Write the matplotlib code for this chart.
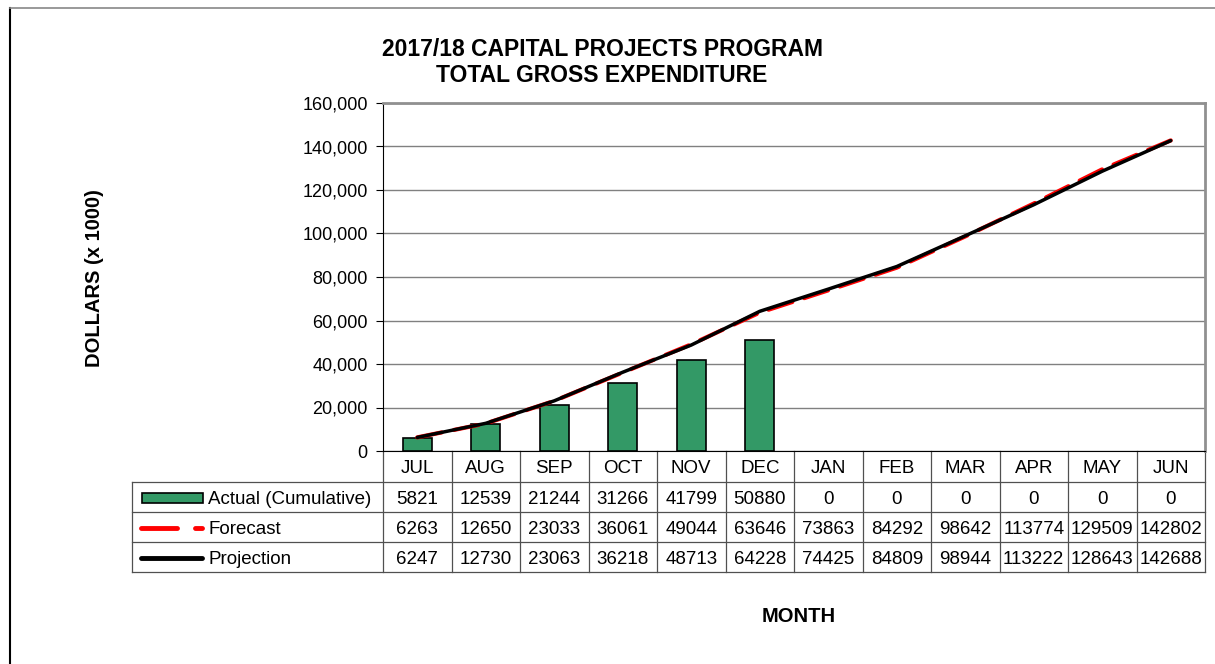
import matplotlib
matplotlib.use("Agg")
import matplotlib.pyplot as plt
import matplotlib.transforms as mtransforms
from matplotlib.patches import Rectangle
from matplotlib.lines import Line2D
from matplotlib.ticker import FuncFormatter

plt.rcParams['font.family'] = ['Liberation Sans', 'DejaVu Sans']

# data
months = ['JUL', 'AUG', 'SEP', 'OCT', 'NOV', 'DEC',
          'JAN', 'FEB', 'MAR', 'APR', 'MAY', 'JUN']
actual = [5821, 12539, 21244, 31266, 41799, 50880, 0, 0, 0, 0, 0, 0]
forecast = [6263, 12650, 23033, 36061, 49044, 63646,
            73863, 84292, 98642, 113774, 129509, 142802]
projection = [6247, 12730, 23063, 36218, 48713, 64228,
              74425, 84809, 98944, 113222, 128643, 142688]

W, H = 1215, 664
fig = plt.figure(figsize=(W / 100, H / 100), dpi=100)

def fx(px):
    return px / W

def fy(py):
    return 1 - py / H

# outer chart border
fig.add_artist(Line2D([fx(10), fx(10)], [fy(8), 0], color='black', lw=1.5,
                      transform=fig.transFigure))
fig.add_artist(Line2D([fx(10), 1], [fy(8), fy(8)], color='#888888', lw=1.2,
                      transform=fig.transFigure))

left, right, top, bottom = 383, 1205, 103, 451
ax = fig.add_axes([fx(left), fy(bottom), fx(right - left), fy(top) - fy(bottom)])

x = list(range(len(months)))
# Excel draws nothing for zero-height bars
bx = [i for i, v in zip(x, actual) if v > 0]
bv = [v for v in actual if v > 0]
ax.bar(bx, bv, width=0.42, color='#339966', edgecolor='black', linewidth=1.2, zorder=3)
ax.plot(x, forecast, color='#ff0000', lw=3, dashes=(6, 3), zorder=4,
        solid_capstyle='round', dash_capstyle='round')
ax.plot(x, projection, color='black', lw=2.5, zorder=5, solid_capstyle='round')

ax.set_xlim(-0.5, len(months) - 0.5)
ax.set_ylim(0, 160000)
ax.set_yticks(range(0, 160001, 20000))
ax.yaxis.set_major_formatter(FuncFormatter(lambda v, p: f'{int(v):,}'))
ax.tick_params(axis='y', labelsize=13, length=5, direction='out', pad=6)
ax.set_xticks([])
ax.grid(axis='y', color='#808080', lw=1, zorder=0)
for s in ['top', 'right']:
    ax.spines[s].set_color('#909090')
    ax.spines[s].set_linewidth(2)
ax.spines['left'].set_color('black')
ax.spines['bottom'].set_color('black')

# data table below the axis
trans = mtransforms.blended_transform_factory(ax.transData, fig.transFigure)
row_h = 30
tbl_left = 132
row_tops = [bottom, bottom + 31, bottom + 31 + row_h, bottom + 31 + 2 * row_h]
tbl_bottom = row_tops[-1] + row_h
line_kw = dict(color='#505050', lw=0.9)
fs = 13.5
dy = 2  # nudge text down so the caps sit centred like the original

for k in range(len(months) + 1):
    ax.add_line(Line2D([k - 0.5, k - 0.5], [fy(bottom), fy(tbl_bottom)],
                       transform=trans, clip_on=False, **line_kw))
for r in row_tops[1:] + [tbl_bottom]:
    fig.add_artist(Line2D([fx(tbl_left), fx(right)], [fy(r), fy(r)],
                          transform=fig.transFigure, **line_kw))
fig.add_artist(Line2D([fx(tbl_left), fx(tbl_left)], [fy(row_tops[1]), fy(tbl_bottom)],
                      transform=fig.transFigure, **line_kw))

for i, m in enumerate(months):
    ax.text(i, fy(bottom + 15.5 + dy), m, transform=trans, ha='center', va='center', fontsize=fs)

rows = [('Actual (Cumulative)', actual), ('Forecast', forecast), ('Projection', projection)]
for j, (name, vals) in enumerate(rows):
    yc = fy(row_tops[j + 1] + row_h / 2 + dy)
    for i, v in enumerate(vals):
        ax.text(i, yc, str(v), transform=trans, ha='center', va='center', fontsize=fs)
    fig.text(fx(208), yc, name, ha='left', va='center', fontsize=fs)

# legend keys
y0 = fy(row_tops[1] + row_h / 2 + 1)
fig.add_artist(Rectangle((fx(142), y0 - 5 / H), fx(61), 10 / H, transform=fig.transFigure,
                         facecolor='#339966', edgecolor='black', lw=1.2))
y1 = fy(row_tops[2] + row_h / 2 + 1)
fig.add_artist(Line2D([fx(141), fx(177)], [y1, y1], color='#ff0000', lw=3.5,
                      solid_capstyle='round', transform=fig.transFigure))
fig.add_artist(Line2D([fx(195), fx(202)], [y1, y1], color='#ff0000', lw=3.5,
                      solid_capstyle='round', transform=fig.transFigure))
y2 = fy(row_tops[3] + row_h / 2 + 1)
fig.add_artist(Line2D([fx(141), fx(202)], [y2, y2], color='black', lw=3.5,
                      solid_capstyle='round', transform=fig.transFigure))

# titles and axis labels
fig.text(fx(602), fy(49), '2017/18 CAPITAL PROJECTS PROGRAM', ha='center', va='center',
         fontsize=16.5, fontweight='bold')
fig.text(fx(602), fy(76), 'TOTAL GROSS EXPENDITURE', ha='center', va='center',
         fontsize=16.5, fontweight='bold')
fig.text(fx(95), fy(278), 'DOLLARS (x 1000)', rotation=90, ha='center', va='center',
         fontsize=14.5, fontweight='bold')
fig.text(fx(799), fy(616), 'MONTH', ha='center', va='center',
         fontsize=14.5, fontweight='bold')

fig.savefig('out.png', dpi=100)
